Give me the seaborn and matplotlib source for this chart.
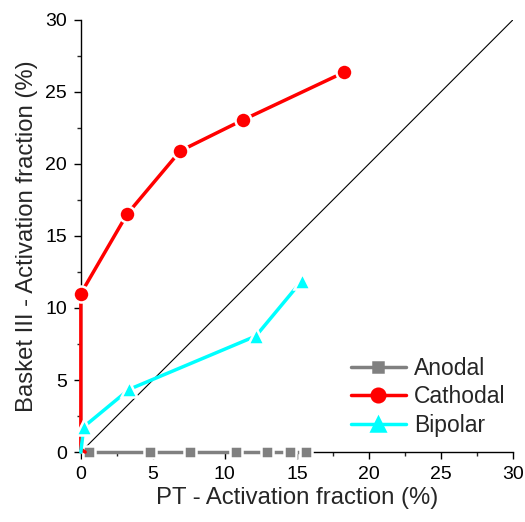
import matplotlib
matplotlib.use("Agg")
import matplotlib.pyplot as plt
import seaborn as sns
import pandas as pd
from matplotlib.ticker import MultipleLocator

sns.set_style("ticks")
plt.rcParams['font.family'] = ['Liberation Sans', 'DejaVu Sans']

anodal_x = [0, 0.6, 4.8, 7.6, 10.8, 12.9, 14.5, 15.6]
anodal_y = [0, 0, 0, 0, 0, 0, 0, 0]
cathodal_x = [0.3, 0, 0, 3.2, 6.9, 11.25, 18.26]
cathodal_y = [0, 0.2, 11.0, 16.5, 20.9, 23.05, 26.35]
bipolar_x = [0, 0.2, 3.35, 12.15, 15.35]
bipolar_y = [0, 1.75, 4.35, 8.05, 11.9]
diag = [0, 30]

fig = plt.figure(figsize=(5.25, 5.22), dpi=100)
ax = fig.add_axes([0.154, 0.134, 0.823, 0.828])

ax.plot(diag, diag, color='black', lw=0.8, zorder=1)

series = [
    ("Anodal", anodal_x, anodal_y, "#808080", "s", 8.5, list(range(1, 8))),
    ("Cathodal", cathodal_x, cathodal_y, "#ff0000", "o", 11.5, [2, 3, 4, 5, 6]),
    ("Bipolar", bipolar_x, bipolar_y, "#00ffff", "^", 12, [1, 2, 3, 4]),
]
for name, xs, ys, col, mk, ms, mev in series:
    df = pd.DataFrame({"x": xs, "y": ys})
    sns.lineplot(data=df, x="x", y="y", sort=False, estimator=None, ax=ax,
                 color=col, lw=2.5, marker=mk, markersize=ms, markevery=mev,
                 markeredgecolor='white', markeredgewidth=1.8, label=name,
                 zorder=3, clip_on=False)

ax.set_xlim(0, 30)
ax.set_ylim(0, 30)
ax.xaxis.set_major_locator(MultipleLocator(5))
ax.yaxis.set_major_locator(MultipleLocator(5))
ax.xaxis.set_minor_locator(MultipleLocator(2.5))
ax.yaxis.set_minor_locator(MultipleLocator(2.5))
ax.tick_params(which='major', length=5, width=1, direction='out', labelsize=14,
               colors='black', pad=5)
ax.tick_params(which='minor', length=3, width=1, direction='out')
for s in ['top', 'right']:
    ax.spines[s].set_visible(False)
for s in ['left', 'bottom']:
    ax.spines[s].set_linewidth(1)
    ax.spines[s].set_color('black')

ax.set_xlabel("PT - Activation fraction (%)", fontsize=17.2, labelpad=3)
ax.set_ylabel("Basket III - Activation fraction (%)", fontsize=17.2, labelpad=5)

leg = ax.legend(loc='lower right', frameon=False, fontsize=16.5, handlelength=2.4,
                handletextpad=0.35, labelspacing=0.25, bbox_to_anchor=(1.03, -0.013),
                markerscale=0.85)
for h in leg.legend_handles:
    h.set_markeredgecolor(h.get_color())

fig.savefig("out.png", dpi=100)
